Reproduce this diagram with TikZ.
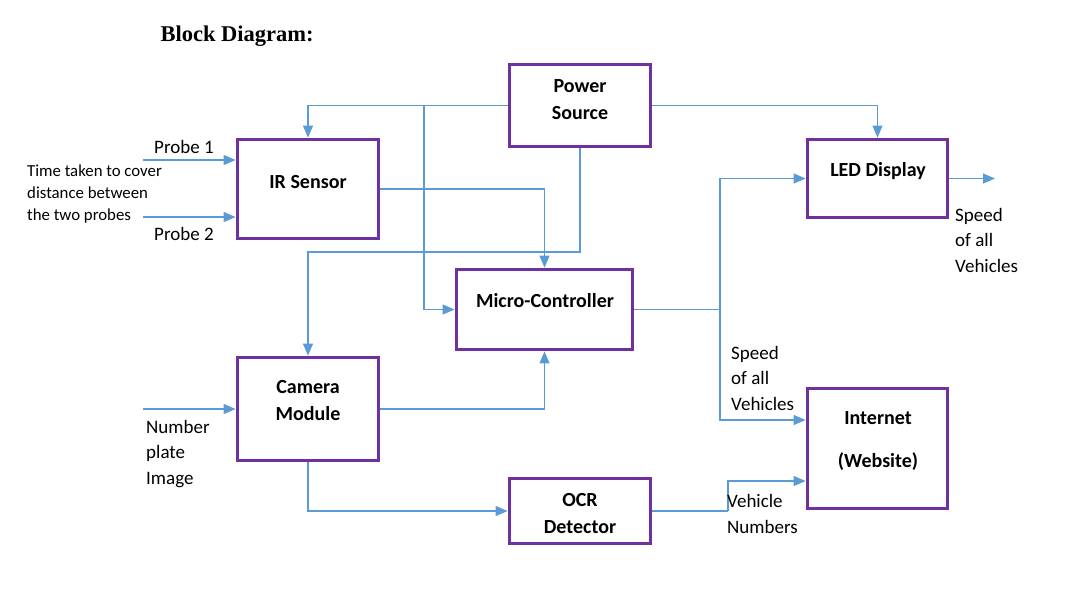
\documentclass[tikz,border=0pt]{standalone}
\usepackage{fontspec}
\setmainfont{Carlito}
\newfontfamily\titlefont{Liberation Serif}
\usepackage{xcolor}
\usetikzlibrary{positioning}
\usetikzlibrary{arrows.meta}
\definecolor{boxpurple}{HTML}{7030A0}
\definecolor{wireblue}{HTML}{5B9BD5}
\tikzset{
  blk/.style={draw=boxpurple,line width=3.8pt,fill=white,inner sep=0pt},
  blktxt/.style={font=\fontsize{20}{27}\selectfont\bfseries,align=center,inner sep=0pt},
  lbl/.style={font=\fontsize{19}{25.5}\selectfont,align=left,anchor=west,inner sep=0pt},
  small/.style={font=\fontsize{16.8}{22}\selectfont,align=left,anchor=west,inner sep=0pt},
  wire/.style={draw=wireblue,line width=1.1pt},
  conn/.style={wire,-{Triangle[length=12pt,width=10pt]}},
}

\begin{document}
\begin{tikzpicture}[x=1pt,y=-1pt]
      \useasboundingbox (0,0) rectangle (1078,606);
      \node[anchor=west,font=\titlefont\fontsize{22.5}{26}\selectfont\bfseries] (title) at (157,36) {Block Diagram:};

      % blocks
      \node[blk,minimum width=141pt,minimum height=82pt] (pwr) at (580,105.5) {};
      \node[blk,minimum width=141pt,minimum height=99pt] (ir) at (308,189) {};
      \node[blk,minimum width=140pt,minimum height=78pt] (led) at (877.5,178.5) {};
      \node[blk,minimum width=176pt,minimum height=80pt] (mcu) at (544.5,309.5) {};
      \node[blk,minimum width=141pt,minimum height=103pt] (cam) at (308,409) {};
      \node[blk,minimum width=141pt,minimum height=65pt] (ocr) at (580,511) {};
      \node[blk,minimum width=140pt,minimum height=120pt] (web) at (877.5,448.5) {};

      \node[blktxt] (pwrtxt) at (580,99.5) {Power\\Source};
      \node[blktxt] (irtxt) at (308,182) {IR Sensor};
      \node[blktxt] (ledtxt) at (878,171) {LED Display};
      \node[blktxt] (mcutxt) at (545,301) {Micro-Controller};
      \node[blktxt] (camtxt) at (308,401) {Camera\\Module};
      \node[blktxt] (ocrtxt) at (580,514) {OCR\\Detector};
      \node[blktxt] (webtxt) at (878,441.5) {Internet\\[16pt](Website)};

      % power lines
      \draw[conn] (pwr.west) -| (ir.north);
      \draw[conn] (pwr.west -| 424,0) |- (mcu.west);
      \coordinate (jcam) at (308,252);
      \draw[conn] (pwr.south) |- (jcam) -- (cam.north);
      \draw[conn] (pwr.east) -| (led.north);

      % sensor inputs
      \coordinate (p1) at (143,160);
      \coordinate (p2) at (143,217);
      \draw[conn] (p1) -- (p1 -| ir.west);
      \draw[conn] (p2) -- (p2 -| ir.west);
      \draw[conn] (ir.east) -| (mcu.north);

      \coordinate (np) at (143,409);
      \draw[conn] (np) -- (cam.west);
      \draw[conn] (cam.east) -| (mcu.south);
      \draw[conn] (cam.south) |- (ocr.west);

      % outputs
      \coordinate (jm) at (720,309.5);
      \draw[wire] (mcu.east) -- (jm);
      \draw[conn] (jm) |- (led.west);
      \draw[conn] (jm) |- (web.west |- 0,420);
      \coordinate (ledout) at (995,178.5);
      \draw[conn] (led.east) -- (ledout);
      \coordinate (jw) at (728,511);
      \draw[wire] (ocr.east) -- (jw);
      \draw[conn] (jw) |- (web.west |- 0,481);

      % labels
      \node[lbl,anchor=center] (probea) at (184,147) {Probe 1};
      \node[lbl,anchor=center] (probeb) at (184,234) {Probe 2};
      \node[small] (timetxt) at (27,194) {Time taken to cover\\distance between\\the two probes};
      \node[lbl] (spdled) at (955,240) {Speed\\of all\\Vehicles};
      \node[lbl] (spdweb) at (731,378) {Speed\\of all\\Vehicles};
      \node[lbl] (plate) at (146,454) {Number\\plate\\Image};
      \node[lbl] (vnum) at (727,514) {Vehicle\\Numbers};
    \end{tikzpicture}
\end{document}
